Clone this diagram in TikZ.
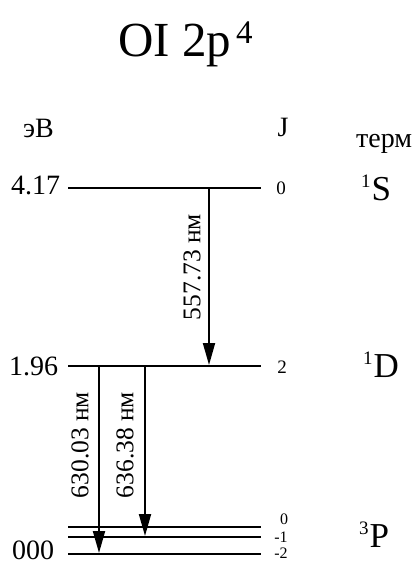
\documentclass[tikz,border=0pt]{standalone}
\usepackage{fontspec}
\setmainfont{Liberation Serif}
\usetikzlibrary{arrows.meta}
\tikzset{
  level/.style={line width=1.8pt},
  trans/.style={line width=1.8pt,-{Triangle[length=22pt,width=12pt]}},
  lbl/.style={inner sep=0pt,font=\fontsize{28}{30}\selectfont},
  jlbl/.style={inner sep=0pt,font=\fontsize{19}{20}\selectfont},
  jsmall/.style={inner sep=0pt,font=\fontsize{16}{17}\selectfont},
  wl/.style={inner sep=0pt,rotate=90,font=\fontsize{25.5}{27}\selectfont},
  term/.style={inner sep=0pt,anchor=base west,font=\fontsize{35}{38}\selectfont}
}
\newcommand{\supr}[1]{\raisebox{13pt}{\fontsize{19}{19}\selectfont #1}\hspace{1pt}}
\begin{document}
\begin{tikzpicture}[x=1pt,y=-1pt]
\useasboundingbox (0,0) rectangle (413,564);
% title
\node[inner sep=0pt,anchor=base west,font=\fontsize{49}{52}\selectfont] (title) at (118,57)
  {OI 2p\hspace{5pt}\raisebox{13pt}{\fontsize{33}{33}\selectfont 4}};
% headers
\node[lbl,anchor=base west] (ev) at (23,138) {эВ};
\node[lbl,anchor=base] (jh) at (283,137) {J};
\node[lbl,anchor=base west,font=\fontsize{28}{30}\selectfont] (termh) at (356,148) {терм};
% level coordinates
\coordinate (S1) at (68,188);  \coordinate (S2) at (261,188);
\coordinate (D1) at (68,366);  \coordinate (D2) at (261,366);
\coordinate (P01) at (68,527); \coordinate (P02) at (261,527);
\coordinate (P11) at (68,537); \coordinate (P12) at (261,537);
\coordinate (P21) at (68,554); \coordinate (P22) at (261,554);
\draw[level] (S1) -- (S2);
\draw[level] (D1) -- (D2);
\draw[level] (P01) -- (P02);
\draw[level] (P11) -- (P12);
\draw[level] (P21) -- (P22);
% energies
\node[lbl,anchor=base west] (e417) at (11,194) {4.17};
\node[lbl,anchor=base west] (e196) at (9,375) {1.96};
\node[lbl,anchor=base west] (e000) at (12,559) {000};
% J values
\node[jlbl,anchor=base] (j0) at (281,194) {0};
\node[jlbl,anchor=base] (j2) at (282,373) {2};
\node[jsmall,anchor=base] (jp0) at (284,524) {0};
\node[jsmall,anchor=base] (jp1) at (281,542) {-1};
\node[jsmall,anchor=base] (jp2) at (281,558) {-2};
% terms
\node[term] (tS) at (361,200) {\supr{1}S};
\node[term] (tD) at (363,377) {\supr{1}D};
\node[term] (tP) at (359,547) {\supr{3}P};
% transitions
\coordinate (a1s) at (209,188); \coordinate (a1e) at (209,365);
\coordinate (a2s) at (99,366);  \coordinate (a2e) at (99,553);
\coordinate (a3s) at (145,366); \coordinate (a3e) at (145,536);
\draw[trans] (a1s) -- (a1e);
\draw[trans] (a2s) -- (a2e);
\draw[trans] (a3s) -- (a3e);
\node[wl] (w1) at (192,267) {557.73 нм};
\node[wl] (w2) at (80,445) {630.03 нм};
\node[wl] (w3) at (125,445) {636.38 нм};
\end{tikzpicture}
\end{document}
